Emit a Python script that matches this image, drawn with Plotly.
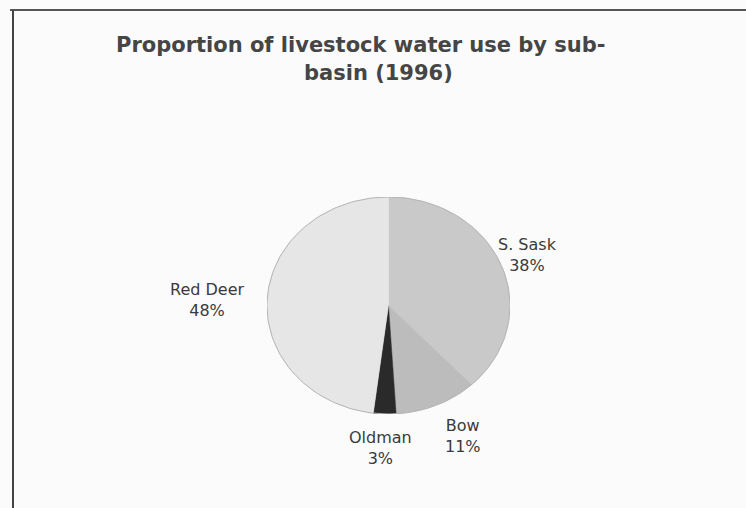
import numpy as np
import plotly.graph_objects as go

# Livestock water use by sub-basin, 1996 (percent of total)
basins = ["S. Sask", "Bow", "Oldman", "Red Deer"]
shares = [38, 11, 3, 48]
colors = ["#c9c9c9", "#bcbcbc", "#2a2a2a", "#e6e6e6"]

W, H = 746, 508

fig = go.Figure()

# Slices go clockwise from 12 o'clock; each wedge is a filled polygon on a unit-radius axis pair
total = float(sum(shares))
start = 0.0
for name, val, col in zip(basins, shares, colors):
    sweep = 2 * np.pi * val / total
    t = np.linspace(start, start + sweep, max(8, int(val * 4)))
    xs = np.concatenate([[0.0], np.sin(t), [0.0]])
    ys = np.concatenate([[0.0], np.cos(t), [0.0]])
    fig.add_trace(go.Scatter(
        x=xs, y=ys, mode="lines", fill="toself", fillcolor=col,
        line=dict(color=col, width=0.5), hoverinfo="text",
        text=f"{name}: {val}%", showlegend=False,
    ))
    start += sweep

# thin rim around the pie
tt = np.linspace(0, 2 * np.pi, 200)
fig.add_trace(go.Scatter(x=np.sin(tt), y=np.cos(tt), mode="lines",
                         line=dict(color="#b4b4b4", width=1), hoverinfo="skip",
                         showlegend=False))

# pie occupies x 267..510 px and y 197..414 px in the page
x0, x1 = 267 / W, 510 / W
y0, y1 = 1 - 414 / H, 1 - 197 / H

fig.update_xaxes(range=[-1.0, 1.0], domain=[x0, x1], visible=False, fixedrange=True)
fig.update_yaxes(range=[-1.0, 1.0], domain=[y0, y1], visible=False, fixedrange=True)

# data labels: name and share, placed outside each slice
label_pos = {
    "S. Sask": (527, 255),
    "Bow": (463, 436),
    "Oldman": (380, 448),
    "Red Deer": (207, 300),
}
for name, val in zip(basins, shares):
    px, py = label_pos[name]
    fig.add_annotation(
        x=px / W, y=1 - py / H, xref="paper", yref="paper",
        text=f"{name}<br>{val}%", showarrow=False, align="center",
        font=dict(family="DejaVu Sans", size=16, color="#3a3a3a"),
        xanchor="center", yanchor="middle",
    )

# two-line chart title
title_font = dict(family="DejaVu Sans", size=21, color="#454545")
fig.add_annotation(x=361 / W, y=1 - 45 / H, xref="paper", yref="paper",
                   text="<b>Proportion of livestock water use by sub-</b>",
                   showarrow=False, xanchor="center", yanchor="middle", font=title_font)
fig.add_annotation(x=378 / W, y=1 - 73 / H, xref="paper", yref="paper",
                   text="<b>basin (1996)</b>",
                   showarrow=False, xanchor="center", yanchor="middle", font=title_font)

# frame: top and left border of the chart area
fig.add_shape(type="line", xref="paper", yref="paper",
              x0=10 / W, x1=1, y0=1 - 10 / H, y1=1 - 10 / H,
              line=dict(color="#555555", width=2))
fig.add_shape(type="line", xref="paper", yref="paper",
              x0=13 / W, x1=13 / W, y0=1 - 10 / H, y1=0,
              line=dict(color="#444444", width=2))

fig.update_layout(
    width=W, height=H,
    margin=dict(l=0, r=0, t=0, b=0),
    paper_bgcolor="#fbfbfb", plot_bgcolor="rgba(0,0,0,0)",
    showlegend=False,
)

fig.write_html("out.html")
